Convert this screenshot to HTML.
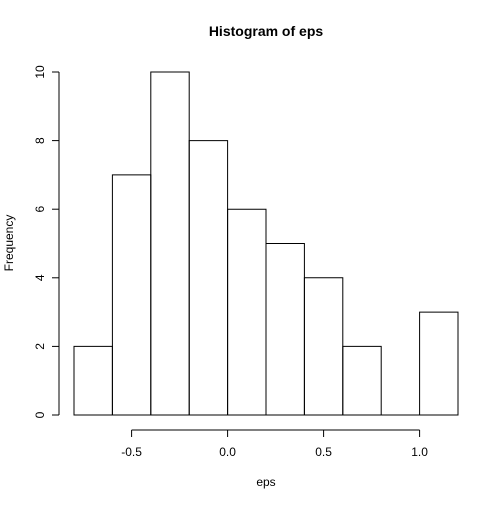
<!DOCTYPE html>
<html><head><meta charset="utf-8"><style>body{margin:0;background:#fff}svg text{font-family:"Liberation Sans",Arial,sans-serif}</style></head>
<body>
<svg id="c" width="504" height="504" xmlns="http://www.w3.org/2000/svg">
<text x="266" y="36" text-anchor="middle" font-size="14" font-weight="bold">Histogram of eps</text>
<text x="266" y="486" text-anchor="middle" font-size="12">eps</text>
<text transform="translate(13,243) rotate(-90)" text-anchor="middle" font-size="12">Frequency</text>
</svg>
<script>
const breaks=[-0.8,-0.6,-0.4,-0.2,0,0.2,0.4,0.6,0.8,1.0,1.2];
const counts=[2,7,10,8,6,5,4,2,0,3];
const xTicks=[-0.5,0.0,0.5,1.0];
const xTickLabels=["-0.5","0.0","0.5","1.0"];
const yTicks=[0,2,4,6,8,10];
const svg=document.getElementById('c');
const NS="http://www.w3.org/2000/svg";
const X=v=>74+(v+0.8)/2.0*384;
const Y=v=>415-v*34.3;
function mk(t,a){const e=document.createElementNS(NS,t);for(const k in a)e.setAttribute(k,a[k]);svg.appendChild(e);return e;}
counts.forEach((c,i)=>{
 const x0=X(breaks[i]),x1=X(breaks[i+1]),y0=Y(0),y1=Y(c);
 const r=mk('path',{d:`M${x0},${y0}L${x1},${y0}L${x1},${y1}L${x0},${y1}Z`,fill:'none',stroke:'#000','stroke-width':1});
 
 
});
const xa=mk('line',{x1:X(xTicks[0]),x2:X(xTicks[xTicks.length-1]),y1:430,y2:430,stroke:'#000'});


xTicks.forEach((t,i)=>{
 mk('line',{x1:X(t),x2:X(t),y1:430,y2:437,stroke:'#000'});
 const tx=mk('text',{x:X(t),y:456,'text-anchor':'middle','font-size':12});
 tx.textContent=xTickLabels[i];
 
 
});
const ya=mk('line',{x1:59,x2:59,y1:Y(yTicks[0]),y2:Y(yTicks[yTicks.length-1]),stroke:'#000'});


yTicks.forEach(t=>{
 mk('line',{x1:52,x2:59,y1:Y(t),y2:Y(t),stroke:'#000'});
 const tx=mk('text',{transform:`translate(44,${Y(t)}) rotate(-90)`,'text-anchor':'middle','font-size':12});
 tx.textContent=String(t);
 
 
});
</script>
</body></html>
